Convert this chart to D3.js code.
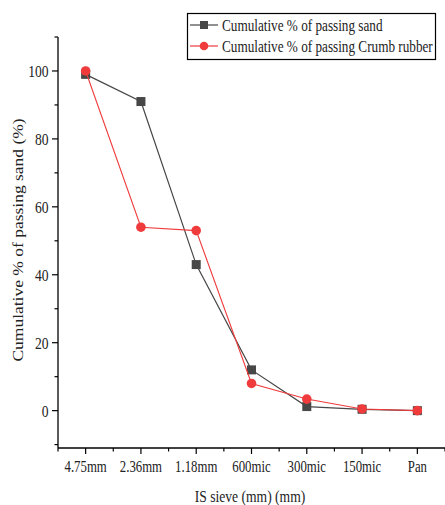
<!DOCTYPE html>
<html><head><meta charset="utf-8">
<script src="https://cdn.jsdelivr.net/npm/d3@7/dist/d3.min.js"></script>
<style>body{margin:0;background:#fff}svg{display:block}text{font-family:"Liberation Serif","Times New Roman",serif;fill:#222}</style>
</head><body>
<script>
const categories = ["4.75mm","2.36mm","1.18mm","600mic","300mic","150mic","Pan"];
const sandValues = [99, 91, 43, 12, 1.2, 0.4, 0];
const rubberValues = [100, 54, 53, 8, 3.4, 0.5, 0];
const yTicks = [0, 20, 40, 60, 80, 100];
const seriesNames = ["Cumulative % of passing sand", "Cumulative % of passing Crumb rubber"];

const W = 445, H = 505, SX = 0.8;
const svg = d3.select("body").append("svg").attr("width", W).attr("height", H);
const x = d3.scaleLinear().domain([-0.5, 6.5]).range([58, 445]);
const y = d3.scaleLinear().domain([-11, 110]).range([448, 37]);

// y axis
const yAxis = svg.append("g").attr("transform", "translate(58,0)");
yAxis.append("line").attr("x1",0).attr("x2",0).attr("y1",y(110)).attr("y2",y(-11)).attr("stroke","#000").attr("stroke-width",1.3);
const yMinor = d3.range(-10, 111, 10).filter(v => !yTicks.includes(v));
yAxis.selectAll(".ymaj").data(yTicks).join("line").attr("x1",0).attr("x2",-6).attr("y1",d=>y(d)).attr("y2",d=>y(d)).attr("stroke","#000").attr("stroke-width",1.2);
yAxis.selectAll(".ymin").data(yMinor).join("line").attr("x1",0).attr("x2",-3.5).attr("y1",d=>y(d)).attr("y2",d=>y(d)).attr("stroke","#000").attr("stroke-width",1.2);
yAxis.selectAll(".ylab").data(yTicks).join("text").attr("transform",d=>`translate(-9.5,${y(d)}) scale(${SX},1)`).attr("dy","0.35em").attr("text-anchor","end").attr("font-size",17).text(d=>d);

// x axis
const xAxis = svg.append("g").attr("transform", "translate(0,448)");
xAxis.append("line").attr("x1",58).attr("x2",445).attr("y1",0).attr("y2",0).attr("stroke","#000").attr("stroke-width",1.3);
xAxis.selectAll(".xmaj").data(categories).join("line").attr("x1",(d,i)=>x(i)).attr("x2",(d,i)=>x(i)).attr("y1",0).attr("y2",6).attr("stroke","#000").attr("stroke-width",1.2);
xAxis.selectAll(".xmin").data(d3.range(-0.5, 6.6, 1)).join("line").attr("x1",d=>x(d)).attr("x2",d=>x(d)).attr("y1",0).attr("y2",3.5).attr("stroke","#000").attr("stroke-width",1.2);
xAxis.selectAll(".xlab").data(categories).join("text").attr("transform",(d,i)=>`translate(${x(i)},24) scale(${SX},1)`).attr("text-anchor","middle").attr("font-size",16).text(d=>d);

// titles
svg.append("text").attr("transform",`translate(250,502) scale(${SX},1)`).attr("text-anchor","middle").attr("font-size",17).text("IS sieve (mm) (mm)");
svg.append("text").attr("transform",`translate(23,240) rotate(-90) scale(1,${SX})`).attr("text-anchor","middle").attr("font-size",17.5).text("Cumulative % of passing sand (%)");

const line = d3.line().x((d,i)=>x(i)).y(d=>y(d));
const sandColor = "#474747", redColor = "#ef3b3b";

svg.append("path").datum(sandValues).attr("d",line).attr("fill","none").attr("stroke",sandColor).attr("stroke-width",1.2);
svg.selectAll(".sq").data(sandValues).join("rect").attr("x",(d,i)=>x(i)-4.5).attr("y",d=>y(d)-4.5).attr("width",9).attr("height",9).attr("fill",sandColor);
svg.append("path").datum(rubberValues).attr("d",line).attr("fill","none").attr("stroke",redColor).attr("stroke-width",1.1);
svg.selectAll(".ci").data(rubberValues).join("circle").attr("cx",(d,i)=>x(i)).attr("cy",d=>y(d)).attr("r",4.8).attr("fill",redColor);

// legend
const lg = svg.append("g");
lg.append("rect").attr("x",187.5).attr("y",13.5).attr("width",248).attr("height",46).attr("fill","#fff").attr("stroke","#000").attr("stroke-width",1.2);
const items = [{name:seriesNames[0], color:sandColor, shape:"sq"},{name:seriesNames[1], color:redColor, shape:"ci"}];
items.forEach((it,k)=>{
  const cy = 25 + k*21;
  lg.append("line").attr("x1",190).attr("x2",218).attr("y1",cy).attr("y2",cy).attr("stroke",it.color).attr("stroke-width",1.2);
  if(it.shape==="sq") lg.append("rect").attr("x",200).attr("y",cy-4).attr("width",8).attr("height",8).attr("fill",it.color);
  else lg.append("circle").attr("cx",204).attr("cy",cy).attr("r",4.3).attr("fill",it.color);
  lg.append("text").attr("transform",`translate(222,${cy}) scale(${SX},1)`).attr("dy","0.35em").attr("font-size",16.5).text(it.name);
});
</script>
</body></html>
